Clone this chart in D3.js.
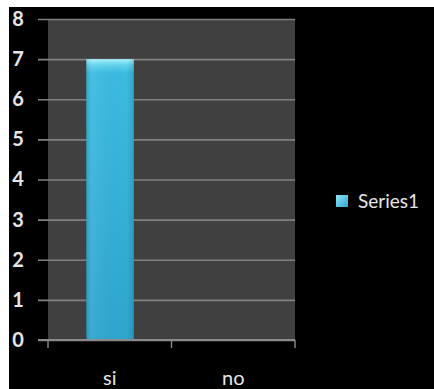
<!DOCTYPE html>
<html>
<head>
<meta charset="utf-8">
<script src="https://cdn.jsdelivr.net/npm/d3@7"></script>
<style>
  html, body { margin: 0; padding: 0; background: #fff; }
  svg { display: block; }
</style>
</head>
<body>
<svg id="chart" width="434" height="389"></svg>
<script>
// Chart data
const categories = ["si", "no"];
const series1 = [7, 0];
const seriesName = "Series1";
const yTicks = [0, 1, 2, 3, 4, 5, 6, 7, 8];

const W = 434, H = 389;
const svg = d3.select("#chart");
const margin = { left: 48, right: 139, top: 19, bottom: 49 };

const defs = svg.append("defs");
const barGrad = defs.append("linearGradient").attr("id", "barGrad")
  .attr("x1", 0).attr("x2", 0).attr("y1", 0).attr("y2", 1);
barGrad.append("stop").attr("offset", "0%").attr("stop-color", "#a8f4ff");
barGrad.append("stop").attr("offset", "2.2%").attr("stop-color", "#5fd2ee");
barGrad.append("stop").attr("offset", "5%").attr("stop-color", "#3cbbe0");
barGrad.append("stop").attr("offset", "100%").attr("stop-color", "#2ea6cf");

const barSide = defs.append("linearGradient").attr("id", "barSide")
  .attr("x1", 0).attr("x2", 1).attr("y1", 0).attr("y2", 0);
barSide.append("stop").attr("offset", "0%").attr("stop-color", "#000").attr("stop-opacity", 0.12);
barSide.append("stop").attr("offset", "12%").attr("stop-color", "#fff").attr("stop-opacity", 0.06);
barSide.append("stop").attr("offset", "85%").attr("stop-color", "#000").attr("stop-opacity", 0);
barSide.append("stop").attr("offset", "100%").attr("stop-color", "#000").attr("stop-opacity", 0.12);

const legGrad = defs.append("linearGradient").attr("id", "legGrad")
  .attr("x1", 0).attr("x2", 1).attr("y1", 0).attr("y2", 1);
legGrad.append("stop").attr("offset", "0%").attr("stop-color", "#8fe6fa");
legGrad.append("stop").attr("offset", "100%").attr("stop-color", "#2ea6cf");

// Black canvas with a thin white border at the top and left
svg.append("rect").attr("x", 9).attr("y", 7).attr("width", W - 9).attr("height", H - 7).attr("fill", "#000");

const x = d3.scaleBand().domain(categories)
  .range([margin.left, W - margin.right]).paddingInner(0).paddingOuter(0);
const y = d3.scaleLinear().domain([0, 8]).range([H - margin.bottom, margin.top]);

// Plot area
svg.append("rect")
  .attr("x", margin.left).attr("y", y(8))
  .attr("width", x.range()[1] - margin.left).attr("height", y(0) - y(8))
  .attr("fill", "#404040");

// Gridlines with outward ticks on the left
const yAxis = d3.axisLeft(y).tickValues(yTicks)
  .tickSize(-(x.range()[1] - margin.left)).tickSizeOuter(0).tickPadding(14)
  .tickFormat(d3.format("d"));
const gy = svg.append("g").attr("transform", `translate(${margin.left},0)`).call(yAxis);
gy.select(".domain").remove();
gy.selectAll(".tick line").attr("stroke", "#808080").attr("stroke-width", 1.6)
  .attr("x1", -10);
gy.selectAll(".tick text")
  .attr("fill", "#e6e6e6").attr("font-family", "Lato, 'Open Sans', sans-serif")
  .attr("font-weight", "bold").attr("font-size", 20).attr("text-anchor", "middle")
  .attr("x", -30);

// Bars
const bars = svg.append("g");
bars.selectAll("rect.bar").data(series1).join("rect")
  .attr("class", "bar")
  .attr("x", (d, i) => x(categories[i]) + x.bandwidth() * 0.31)
  .attr("y", d => y(d))
  .attr("width", x.bandwidth() * 0.385)
  .attr("height", d => y(0) - y(d))
  .attr("fill", "url(#barGrad)");
bars.selectAll("rect.side").data(series1).join("rect")
  .attr("class", "side")
  .attr("x", (d, i) => x(categories[i]) + x.bandwidth() * 0.31)
  .attr("y", d => y(d))
  .attr("width", x.bandwidth() * 0.385)
  .attr("height", d => y(0) - y(d))
  .attr("fill", "url(#barSide)");

// Category axis
const xAxis = d3.axisBottom(x).tickSize(0).tickPadding(31);
const gx = svg.append("g").attr("transform", `translate(0,${y(0)})`).call(xAxis);
gx.select(".domain").attr("stroke", "#8a8a8a").attr("stroke-width", 1.8)
  .attr("d", `M${margin.left - 10},0H${x.range()[1]}`);
gx.selectAll(".tick text")
  .attr("fill", "#e6e6e6").attr("font-family", "Lato, 'Open Sans', sans-serif")
  .attr("font-size", 20);
// Boundary tick marks between categories
const bounds = [x.range()[0], ...categories.slice(1).map(c => x(c)), x.range()[1]];
gx.selectAll("line.bound").data(bounds).join("line")
  .attr("class", "bound")
  .attr("x1", d => d).attr("x2", d => d).attr("y1", 0).attr("y2", 8)
  .attr("stroke", "#8a8a8a").attr("stroke-width", 1.4);

// Legend
const lg = svg.append("g").attr("transform", "translate(336,195)");
lg.append("rect").attr("width", 12).attr("height", 12).attr("fill", "url(#legGrad)");
lg.append("text").attr("x", 22).attr("y", 13)
  .attr("fill", "#e6e6e6").attr("font-family", "Lato, 'Open Sans', sans-serif")
  .attr("font-size", 19).text(seriesName);
</script>
</body>
</html>
